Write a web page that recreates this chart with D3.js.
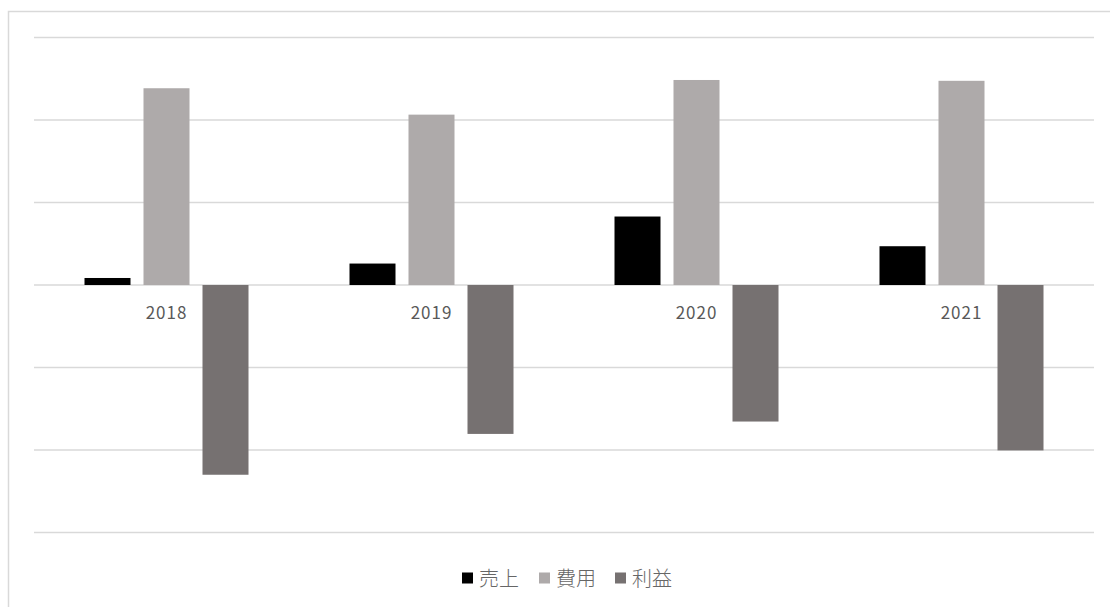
<!DOCTYPE html>
<html lang="ja">
<head>
<meta charset="utf-8">
<script src="https://cdn.jsdelivr.net/npm/d3@7"></script>
<style>
  html, body { margin: 0; padding: 0; background: #fff; }
  svg { display: block; }
  text { font-family: "Noto Sans CJK JP", "Noto Sans", sans-serif; }
</style>
</head>
<body>
<svg id="chart" width="1110" height="607"></svg>
<script>
// Yearly figures
const years = ["2018", "2019", "2020", "2021"];
const seriesNames = ["売上", "費用", "利益"];
const sales = [17, 52, 166, 94];
const costs = [477, 413, 497, 495];
const profit = [-460, -361, -331, -401];
const gridTicks = [-600, -400, -200, 0, 200, 400, 600];

const seriesValues = [sales, costs, profit];
const colors = ["#000000", "#AEAAAA", "#767171"];

const svg = d3.select("#chart");
const plot = { left: 34, right: 1094, top: 37.5, bottom: 532.5 };

// Outer frame (runs past the right and bottom edges)
svg.append("rect")
  .attr("x", 8.5).attr("y", 11.5)
  .attr("width", 1300).attr("height", 800)
  .attr("fill", "#fff")
  .attr("stroke", "#D9D9D9").attr("stroke-width", 1.5);

const y = d3.scaleLinear().domain([-600, 600]).range([plot.bottom, plot.top]);
const x0 = d3.scaleBand().domain(years).range([plot.left, plot.right]).padding(0);

// Inner band: bar width 46, gap 13 inside a 265px category
const step = 59, barW = 46;
const pi = (step - barW) / step;
const po = (x0.bandwidth() / step - (seriesNames.length - pi)) / 2;
const x1 = d3.scaleBand().domain(seriesNames).range([0, x0.bandwidth()])
  .paddingInner(pi).paddingOuter(po);

// Horizontal gridlines
svg.append("g").selectAll("line")
  .data(gridTicks)
  .join("line")
  .attr("x1", plot.left).attr("x2", plot.right)
  .attr("y1", d => y(d)).attr("y2", d => y(d))
  .attr("stroke", "#D9D9D9").attr("stroke-width", 1.5);

// Bars
const rows = [];
years.forEach((yr, i) => {
  seriesNames.forEach((s, j) => rows.push({ year: yr, series: s, value: seriesValues[j][i], color: colors[j] }));
});

svg.append("g").selectAll("rect")
  .data(rows)
  .join("rect")
  .attr("x", d => x0(d.year) + x1(d.series))
  .attr("width", x1.bandwidth())
  .attr("y", d => y(Math.max(0, d.value)))
  .attr("height", d => Math.abs(y(d.value) - y(0)))
  .attr("fill", d => d.color);

// Category labels sit just below the zero line
svg.append("g").selectAll("text")
  .data(years)
  .join("text")
  .attr("x", d => x0(d) + x0.bandwidth() / 2)
  .attr("y", y(0) + 34)
  .attr("text-anchor", "middle")
  .attr("font-size", 17)
  .attr("letter-spacing", 1)
  .attr("fill", "#595959")
  .text(d => d);

// Legend
const legendX = [462, 539, 615];
const legend = svg.append("g").selectAll("g")
  .data(seriesNames)
  .join("g")
  .attr("transform", (d, i) => `translate(${legendX[i]},578)`);
legend.append("rect")
  .attr("x", 0).attr("y", -5.5)
  .attr("width", 11).attr("height", 11)
  .attr("fill", (d, i) => colors[i]);
legend.append("text")
  .attr("x", 17).attr("y", 7.5)
  .attr("font-size", 20)
  .attr("font-weight", 300)
  .attr("fill", "#666666")
  .text(d => d);
</script>
</body>
</html>
